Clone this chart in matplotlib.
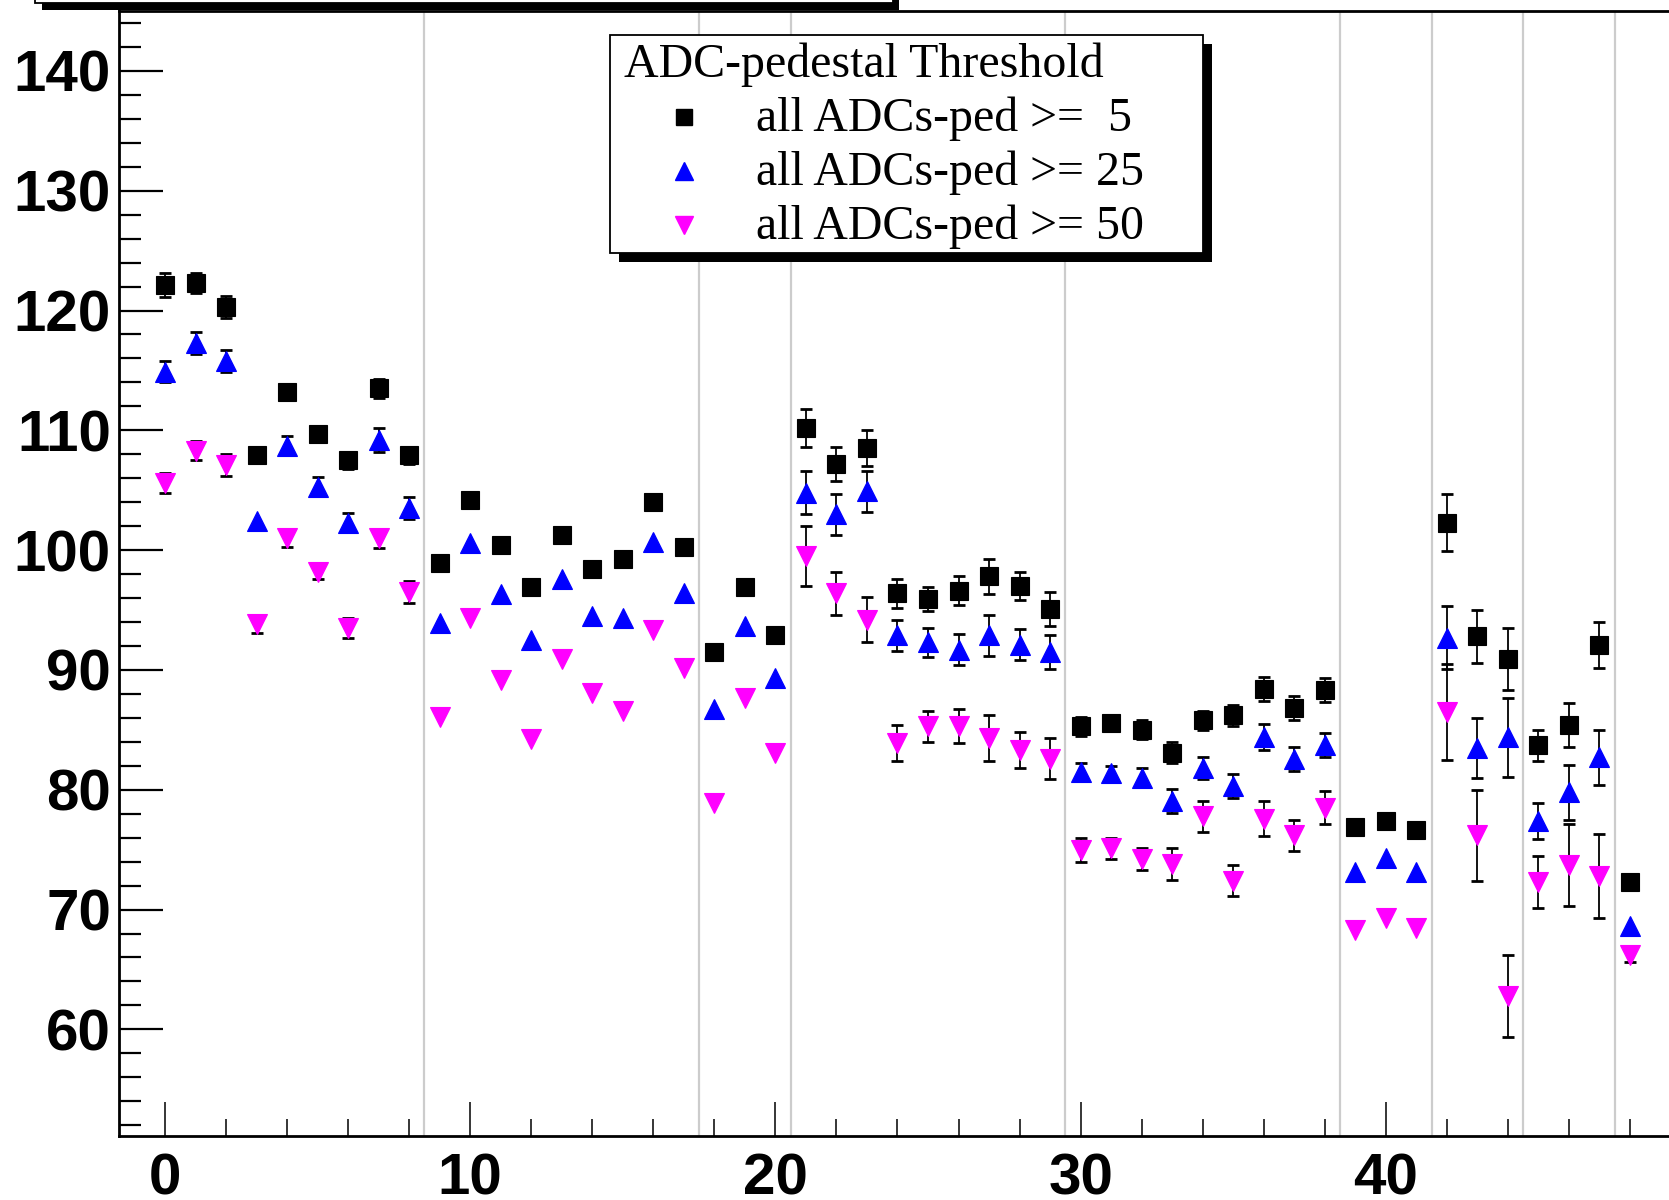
import matplotlib
matplotlib.use("Agg")
import matplotlib.pyplot as plt
from matplotlib.patches import Rectangle
from matplotlib.lines import Line2D
import numpy as np

# ---------------- data ----------------
channels = list(range(49))

thr5_vals = [122.1, 122.3, 120.3, 107.9, 113.2, 109.7, 107.5, 113.5, 107.9, 98.9,
             104.2, 100.4, 96.9, 101.3, 98.4, 99.3, 104.0, 100.3, 91.5, 96.9,
             92.9, 110.2, 107.2, 108.5, 96.4, 95.9, 96.6, 97.8, 97.0, 95.1,
             85.3, 85.6, 85.0, 83.1, 85.8, 86.2, 88.4, 86.8, 88.3, 76.9,
             77.4, 76.6, 102.3, 92.8, 90.9, 83.7, 85.4, 92.1, 72.3]
thr5_errs = [1.0, 0.8, 0.9, 0.0, 0.5, 0.5, 0.7, 0.8, 0.7, 0.0,
             0.0, 0.0, 0.0, 0.0, 0.0, 0.0, 0.0, 0.0, 0.0, 0.0,
             0.0, 1.6, 1.4, 1.5, 1.2, 1.0, 1.2, 1.5, 1.2, 1.4,
             0.8, 0.5, 0.8, 0.9, 0.8, 0.9, 1.0, 1.0, 1.0, 0.0,
             0.0, 0.0, 2.4, 2.2, 2.6, 1.3, 1.8, 1.9, 0.0]

thr25_vals = [114.9, 117.3, 115.8, 102.4, 108.7, 105.3, 102.3, 109.2, 103.5, 93.9,
              100.6, 96.3, 92.5, 97.6, 94.5, 94.3, 100.7, 96.4, 86.7, 93.7,
              89.3, 104.8, 103.0, 104.9, 92.9, 92.3, 91.7, 92.9, 92.1, 91.5,
              81.5, 81.4, 81.0, 79.1, 81.8, 80.3, 84.4, 82.6, 83.7, 73.1,
              74.3, 73.1, 92.7, 83.5, 84.4, 77.4, 79.8, 82.7, 68.6]
thr25_errs = [0.9, 0.9, 0.9, 0.0, 0.8, 0.8, 0.8, 1.0, 0.9, 0.0,
              0.0, 0.0, 0.0, 0.0, 0.0, 0.0, 0.0, 0.0, 0.0, 0.0,
              0.0, 1.8, 1.7, 1.7, 1.3, 1.2, 1.3, 1.7, 1.3, 1.4,
              0.7, 0.6, 0.8, 1.0, 0.9, 1.0, 1.1, 1.0, 1.0, 0.0,
              0.0, 0.0, 2.6, 2.5, 3.3, 1.5, 2.3, 2.3, 0.0]

thr50_vals = [105.6, 108.3, 107.1, 93.8, 101.0, 98.2, 93.5, 101.0, 96.5, 86.1,
              94.3, 89.2, 84.2, 90.9, 88.1, 86.6, 93.3, 90.2, 78.9, 87.7,
              83.1, 99.5, 96.4, 94.2, 83.9, 85.3, 85.3, 84.3, 83.3, 82.6,
              75.0, 75.1, 74.2, 73.8, 77.8, 72.4, 77.6, 76.2, 78.5, 68.3,
              69.3, 68.5, 86.5, 76.2, 62.8, 72.3, 73.7, 72.8, 66.2]
thr50_errs = [0.8, 0.8, 0.9, 0.7, 0.7, 0.6, 0.8, 0.8, 0.9, 0.0,
              0.0, 0.0, 0.0, 0.0, 0.0, 0.0, 0.0, 0.0, 0.0, 0.0,
              0.0, 2.5, 1.8, 1.9, 1.5, 1.3, 1.4, 1.9, 1.5, 1.7,
              1.0, 0.9, 0.9, 1.3, 1.3, 1.3, 1.5, 1.3, 1.4, 0.0,
              0.0, 0.0, 4.0, 3.8, 3.4, 2.2, 3.4, 3.5, 0.6]

legend_title = "ADC-pedestal Threshold"
series_labels = ["all ADCs-ped >=  5", "all ADCs-ped >= 25", "all ADCs-ped >= 50"]
boundaries = [8.5, 17.5, 20.5, 29.5, 38.5, 41.5, 44.5, 47.5]
x_major = [0, 10, 20, 30, 40]
y_major = [60, 70, 80, 90, 100, 110, 120, 130, 140]

# ---------------- figure ----------------
W, H = 1669, 1200
fig = plt.figure(figsize=(W / 100, H / 100), dpi=100)

def fx(px):
    return px / W

def fy(py):
    return 1 - py / H

xlim = (-1.5, 49.5)
ylim = (51.1, 145.0)
px_per_unit = 30.52
ax_left_px = 165.0 + xlim[0] * px_per_unit
ax_w_px = (xlim[1] - xlim[0]) * px_per_unit
ax = fig.add_axes([fx(ax_left_px), fy(1136), fx(ax_w_px), (1136 - 11) / H])
ax.set_xlim(*xlim)
ax.set_ylim(*ylim)

for b in boundaries:
    ax.axvline(b, color="#cccccc", lw=1.6, zorder=0)

styles = [
    dict(marker="s", color="black", ms=13.5, lms=11.5),
    dict(marker="^", color="#0000ff", ms=15.0, lms=12.5),
    dict(marker="v", color="#ff00ff", ms=15.0, lms=12.5),
]
series = [(thr5_vals, thr5_errs), (thr25_vals, thr25_errs), (thr50_vals, thr50_errs)]

for (vals, errs), st in zip(series, styles):
    x = np.array(channels)
    v = np.array(vals)
    e = np.array(errs)
    m = e > 0
    ax.errorbar(x[m], v[m], yerr=e[m], fmt="none", ecolor="black",
                elinewidth=1.3, capsize=4.2, capthick=2.0, zorder=2)
    ax.plot(x, v, linestyle="none", marker=st["marker"],
            color=st["color"], ms=st["ms"], mec=st["color"], mew=0.8, zorder=3)

# spines / ticks
for s in ["left", "bottom", "top"]:
    ax.spines[s].set_linewidth(2.0)
ax.spines["right"].set_visible(False)

ax.set_xticks(x_major)
ax.set_xticks(np.arange(0, 50, 2), minor=True)
ax.set_yticks(y_major)
ax.set_yticks(np.arange(52, 146, 2), minor=True)

ax.tick_params(axis="x", which="major", direction="in", length=24.5, width=1.1,
               top=False, pad=12)
ax.tick_params(axis="x", which="minor", direction="in", length=12.2, width=1.1, top=False)
ax.tick_params(axis="y", which="major", direction="in", length=31.5, width=1.6,
               right=False, pad=6)
ax.tick_params(axis="y", which="minor", direction="in", length=16, width=1.6, right=False)

for lab in ax.get_xticklabels() + ax.get_yticklabels():
    lab.set_fontfamily(["Liberation Sans", "DejaVu Sans"])
    lab.set_fontweight("bold")
    lab.set_fontsize(42)

# ---------------- legend (ROOT-style box with shadow) ----------------
lx0, ly0, lx1, ly1 = 610, 35, 1203, 253
sh = 9
fig.add_artist(Rectangle((fx(lx0 + sh), fy(ly1 + sh)), fx(lx1 - lx0), (ly1 - ly0) / H,
                         transform=fig.transFigure, facecolor="black", edgecolor="none",
                         zorder=10))
fig.add_artist(Rectangle((fx(lx0), fy(ly1)), fx(lx1 - lx0), (ly1 - ly0) / H,
                         transform=fig.transFigure, facecolor="white", edgecolor="black",
                         lw=1.3, zorder=11))
serif = ["Liberation Serif", "DejaVu Serif"]
fig.text(fx(624), fy(77), legend_title, fontsize=34.5, family=serif,
         va="baseline", ha="left", zorder=12)
row_y = [117, 171, 225]
for st, lab, yy in zip(styles, series_labels, row_y):
    fig.add_artist(Line2D([fx(684)], [fy(yy)], transform=fig.transFigure,
                          marker=st["marker"], color=st["color"], ms=st["lms"],
                          linestyle="none", zorder=12))
    fig.text(fx(756), fy(yy + 14), lab, fontsize=34.5, family=serif,
             va="baseline", ha="left", zorder=12)

# ---------------- partially visible title box at the top ----------------
fig.add_artist(Rectangle((fx(42), fy(10)), fx(857), 20 / H, transform=fig.transFigure,
                         facecolor="black", edgecolor="none", zorder=10))
fig.add_artist(Rectangle((fx(35), fy(3)), fx(858), 20 / H, transform=fig.transFigure,
                         facecolor="white", edgecolor="black", lw=1.3, zorder=11))

fig.savefig("out.png", dpi=100)
